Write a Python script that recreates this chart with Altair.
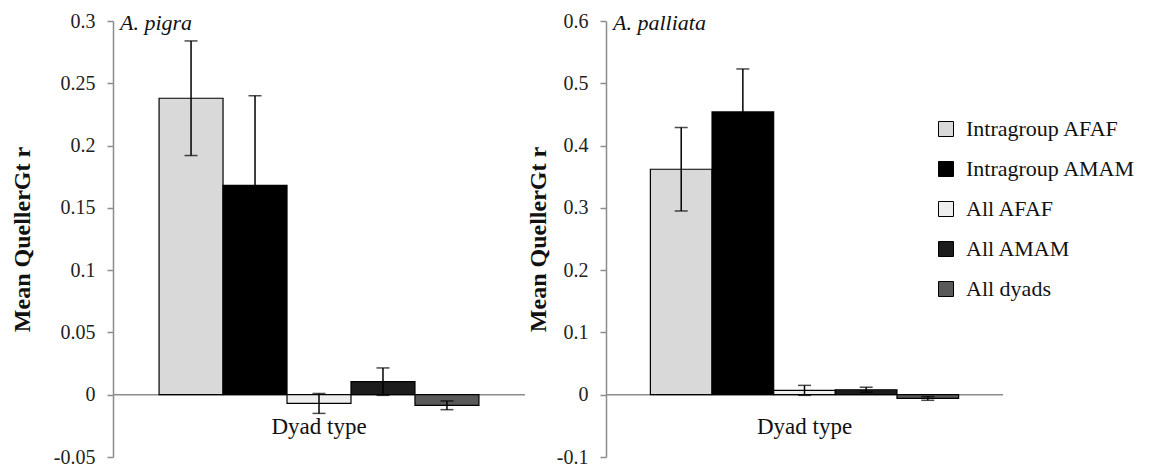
import altair as alt
import pandas as pd

FONT = "Liberation Serif"

series = ["Intragroup AFAF", "Intragroup AMAM", "All AFAF", "All AMAM", "All dyads"]
fills = ["#d9d9d9", "#000000", "#eeeeee", "#1c1c1c", "#595959"]

pigra_mean = [0.238, 0.168, -0.007, 0.0105, -0.0085]
pigra_err = [0.046, 0.072, 0.008, 0.011, 0.0035]

palliata_mean = [0.362, 0.454, 0.007, 0.008, -0.006]
palliata_err = [0.067, 0.069, 0.008, 0.004, 0.003]

pigra_ticks = [-0.05, 0, 0.05, 0.1, 0.15, 0.2, 0.25, 0.3]
palliata_ticks = [-0.1, 0, 0.1, 0.2, 0.3, 0.4, 0.5, 0.6]

y_title = "Mean QuellerGt r"
x_label = "Dyad type"
GRAY = "#8c8c8c"


def panel(name, means, errs, ticks, width, title_pad, legend):
    df = pd.DataFrame({
        "series": series,
        "mean": means,
        "lo": [m - e for m, e in zip(means, errs)],
        "hi": [m + e for m, e in zip(means, errs)],
    })
    base = alt.Chart(df)
    xs = alt.X("series:N", sort=series, axis=None,
               scale=alt.Scale(paddingInner=0, paddingOuter=0.72))
    ysc = alt.Scale(domain=[ticks[0], ticks[-1]], nice=False)

    zero = alt.Chart(pd.DataFrame({"v": [0]})).mark_rule(
        color=GRAY, strokeWidth=1.5
    ).encode(y=alt.Y("v:Q", scale=ysc))

    bars = base.mark_bar(stroke="black", strokeWidth=1.2).encode(
        x=xs,
        y=alt.Y("mean:Q", scale=ysc, axis=alt.Axis(
            values=ticks, title=y_title, grid=False,
            labelExpr="toString(datum.value)",
            titleFont=FONT, titleFontSize=24, titleFontWeight="bold",
            titleColor="#111", titlePadding=title_pad,
            labelFont=FONT, labelFontSize=20, labelColor="#222",
            labelPadding=12, tickSize=6, tickColor=GRAY, tickWidth=1.5,
            domainColor=GRAY, domainWidth=1.5)),
        fill=alt.Fill("series:N", sort=series,
                      scale=alt.Scale(domain=series, range=fills),
                      legend=legend),
    )
    err = base.mark_rule(color="black", strokeWidth=1.5).encode(
        x=xs, y=alt.Y("lo:Q", scale=ysc), y2="hi:Q")
    cap_hi = base.mark_tick(color="black", size=13, thickness=1.5).encode(
        x=xs, y=alt.Y("hi:Q", scale=ysc))
    cap_lo = base.mark_tick(color="black", size=13, thickness=1.5).encode(
        x=xs, y=alt.Y("lo:Q", scale=ysc))

    xlab = alt.Chart(pd.DataFrame({"series": ["All AFAF"], "v": [0], "t": [x_label]})).mark_text(
        font=FONT, fontSize=23, color="#111", baseline="middle", dy=32
    ).encode(x=xs, y=alt.Y("v:Q", scale=ysc), text="t:N")

    ttl = alt.Chart(pd.DataFrame({"t": [name]})).mark_text(
        font=FONT, fontSize=22, fontStyle="italic", color="#111",
        align="left", baseline="middle"
    ).encode(x=alt.value(7), y=alt.value(2), text="t:N")

    return alt.layer(zero, bars, err, cap_hi, cap_lo, xlab, ttl).properties(
        width=width, height=436)


left = panel("A. pigra", pigra_mean, pigra_err, pigra_ticks, 412, 19, None)
right = panel("A. palliata", palliata_mean, palliata_err, palliata_ticks, 397, 6,
              alt.Legend(orient="none", legendX=329, legendY=97, title=None,
                         symbolType="square", symbolSize=225,
                         symbolStrokeColor="black", symbolStrokeWidth=1,
                         labelFont=FONT, labelFontSize=22, labelColor="#111",
                         rowPadding=18, labelOffset=9, direction="vertical",
                         labelLimit=300))

chart = alt.hconcat(left, right, spacing=0).resolve_scale(
    x="independent", y="independent", fill="independent"
).resolve_legend(fill="independent").properties(
    padding={"left": 2, "top": 3, "right": 0, "bottom": 0}
).configure_view(stroke=None)

chart.save("out.html", embed_options={"renderer": "svg", "actions": False})
